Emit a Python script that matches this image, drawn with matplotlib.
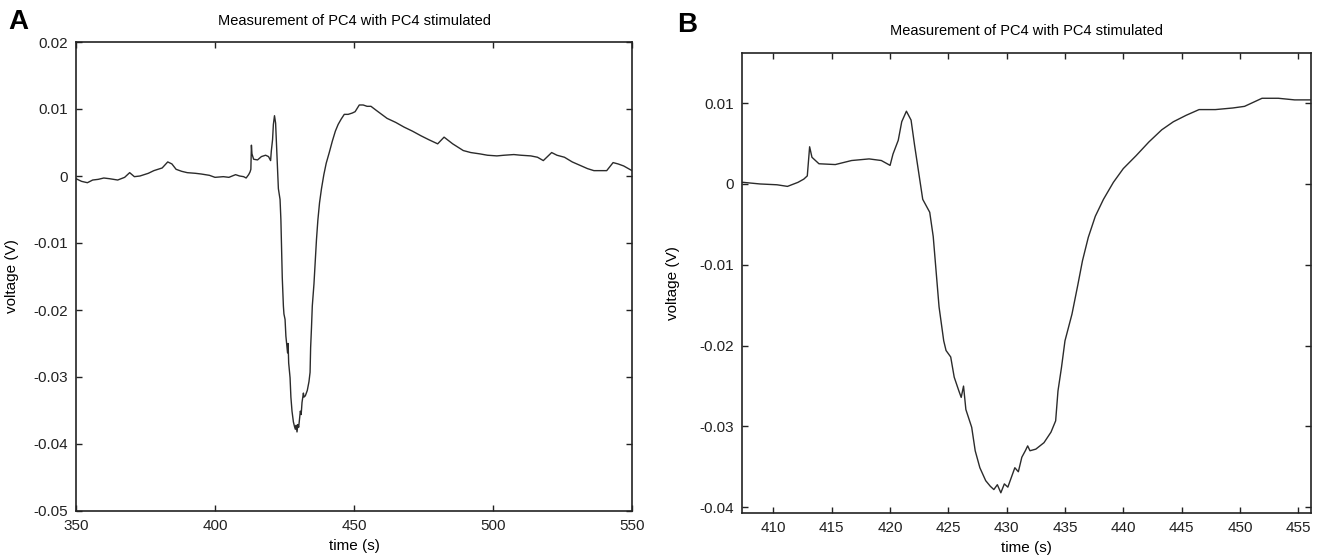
#!/usr/bin/env python3
"""
Recreate the PC4 voltage trace figure (panel A full record, panel B zoom)
"""

import numpy as np
import matplotlib
matplotlib.use('Agg')
import matplotlib.pyplot as plt
from matplotlib.ticker import FuncFormatter

plt.rcParams['font.family'] = ['Liberation Sans', 'DejaVu Sans']
plt.rcParams['axes.unicode_minus'] = False

# trace: time (s), voltage (V)
time_s = [
    350.0, 352.0, 354.1, 356.0, 358.0, 360.0, 362.0, 365.0, 367.5, 369.3,
    371.0, 373.0, 376.0, 378.0, 381.0, 383.0, 384.5, 386.0, 388.0, 390.0,
    393.0, 395.0, 398.0, 400.0, 403.0, 405.0,
    407.4, 408.85, 410.3, 411.2, 412.1, 412.6, 412.9, 413.1, 413.3, 413.9,
    415.3, 416.7, 418.2, 419.25, 420.0, 420.25, 420.7, 421.0, 421.4, 421.8,
    422.1, 422.5, 422.8, 423.4, 423.7, 423.9, 424.0, 424.2, 424.6, 424.8,
    425.2, 425.5, 425.9, 426.1, 426.3, 426.5, 427.0, 427.3, 427.7, 428.2,
    428.6, 428.9, 429.2, 429.5, 429.8, 430.1, 430.4, 430.7, 431.0, 431.3,
    431.6, 431.8, 432.0, 432.5, 433.2, 433.8, 434.2, 434.4, 434.7, 435.0,
    435.6, 436.1, 436.5, 437.0, 437.6, 438.3, 439.15, 440.0, 441.1, 442.2, 443.3,
    444.3, 445.4, 446.5, 447.9, 449.4, 450.4, 451.9, 453.3, 454.7, 456.1,
    458.0, 461.9, 465.0, 468.0, 471.0, 474.1, 477.0, 480.1, 482.4, 485.5,
    489.3, 492.0, 495.3, 498.0, 501.4, 504.0, 507.5, 510.0, 513.6, 516.0,
    518.1, 521.1, 523.0, 525.7, 528.5, 531.8, 534.0, 536.3, 540.9, 543.2,
    545.0, 547.0, 550.0,
]
voltage_v = [
    -0.0004, -0.0008, -0.0010, -0.0006, -0.0005, -0.0003, -0.0004, -0.0006, -0.0002, 0.0005,
    -0.0001, 0.0000, 0.0004, 0.0008, 0.0012, 0.0021, 0.0018, 0.0010, 0.0007, 0.0005,
    0.0004, 0.0003, 0.0001, -0.0002, -0.0001, -0.0002,
    0.0002, 0.0000, -0.0001, -0.0003, 0.0002, 0.0006, 0.0010, 0.0046, 0.0033, 0.0025,
    0.0024, 0.0029, 0.0031, 0.0029, 0.0023, 0.0037, 0.0054, 0.0077, 0.0090, 0.0079,
    0.0048, 0.0010, -0.0019, -0.0035, -0.0065, -0.0100, -0.0119, -0.0152, -0.0194, -0.0206,
    -0.0214, -0.0239, -0.0256, -0.0264, -0.0250, -0.0279, -0.0301, -0.0330, -0.0351, -0.0367,
    -0.0374, -0.0378, -0.0372, -0.0382, -0.0371, -0.0375, -0.0363, -0.0351, -0.0356, -0.0338,
    -0.0330, -0.0324, -0.0330, -0.0328, -0.0320, -0.0307, -0.0293, -0.0256, -0.0227, -0.0194,
    -0.0161, -0.0125, -0.0095, -0.0066, -0.0040, -0.0019, 0.0002, 0.0019, 0.0035, 0.0052, 0.0067,
    0.0077, 0.0085, 0.0092, 0.0092, 0.0094, 0.0096, 0.0106, 0.0106, 0.0104, 0.0104,
    0.0098, 0.0086, 0.0080, 0.0073, 0.0067, 0.0060, 0.0054, 0.0048, 0.0058, 0.0048,
    0.0038, 0.0035, 0.0033, 0.0031, 0.0030, 0.0031, 0.0032, 0.0031, 0.0030, 0.0028,
    0.0023, 0.0035, 0.0031, 0.0028, 0.0021, 0.0015, 0.0011, 0.0008, 0.0008, 0.0020,
    0.0018, 0.0015, 0.0008,
]

panel_letters = ['A', 'B']
title_text = 'Measurement of PC4 with PC4 stimulated'
xlabel_text = 'time (s)'
ylabel_text = 'voltage (V)'

a_xticks = [350, 400, 450, 500, 550]
a_yticks = [0.02, 0.01, 0.0, -0.01, -0.02, -0.03, -0.04, -0.05]
b_xticks = [410, 415, 420, 425, 430, 435, 440, 445, 450, 455]
b_yticks = [0.01, 0.0, -0.01, -0.02, -0.03, -0.04]


def matlab_fmt(v, pos=None):
    return '%g' % round(v, 4)


def style_axes(ax):
    for sp in ax.spines.values():
        sp.set_linewidth(1.2)
        sp.set_color('#222222')
    ax.tick_params(direction='in', length=4.5, width=1.0, top=True, right=True,
                   labelsize=11, colors='#222222', pad=6)
    ax.xaxis.set_major_formatter(FuncFormatter(matlab_fmt))
    ax.yaxis.set_major_formatter(FuncFormatter(matlab_fmt))


W, H = 1317, 560
fig = plt.figure(figsize=(W / 100, H / 100), dpi=100)

# panel A: full record
ax_a = fig.add_axes([76 / W, 1 - 511 / H, 556 / W, 469 / H])
ax_a.plot(time_s, voltage_v, color='#2b2b2b', lw=1.0)
ax_a.set_xlim(350, 550)
ax_a.set_ylim(-0.05, 0.02)
ax_a.set_xticks(a_xticks)
ax_a.set_yticks(a_yticks)
style_axes(ax_a)
ax_a.set_title(title_text, fontsize=10.5, pad=12)
ax_a.set_xlabel(xlabel_text, fontsize=11, labelpad=4)
ax_a.set_ylabel(ylabel_text, fontsize=11, labelpad=10)

# panel B: zoom on the response
ax_b = fig.add_axes([742 / W, 1 - 513 / H, 569 / W, 460 / H])
ax_b.plot(time_s, voltage_v, color='#2b2b2b', lw=1.0)
ax_b.set_xlim(407.3, 456.1)
ax_b.set_ylim(-0.0407, 0.0162)
ax_b.set_xticks(b_xticks)
ax_b.set_yticks(b_yticks)
style_axes(ax_b)
ax_b.set_title(title_text, fontsize=10.5, pad=13)
ax_b.set_xlabel(xlabel_text, fontsize=11, labelpad=4)
ax_b.set_ylabel(ylabel_text, fontsize=11, labelpad=14)

fig.text(8 / W, 1 - 9 / H, panel_letters[0], fontsize=20, fontweight='bold', va='top')
fig.text(677 / W, 1 - 12 / H, panel_letters[1], fontsize=20, fontweight='bold', va='top')

plt.savefig('out.png', dpi=100)
